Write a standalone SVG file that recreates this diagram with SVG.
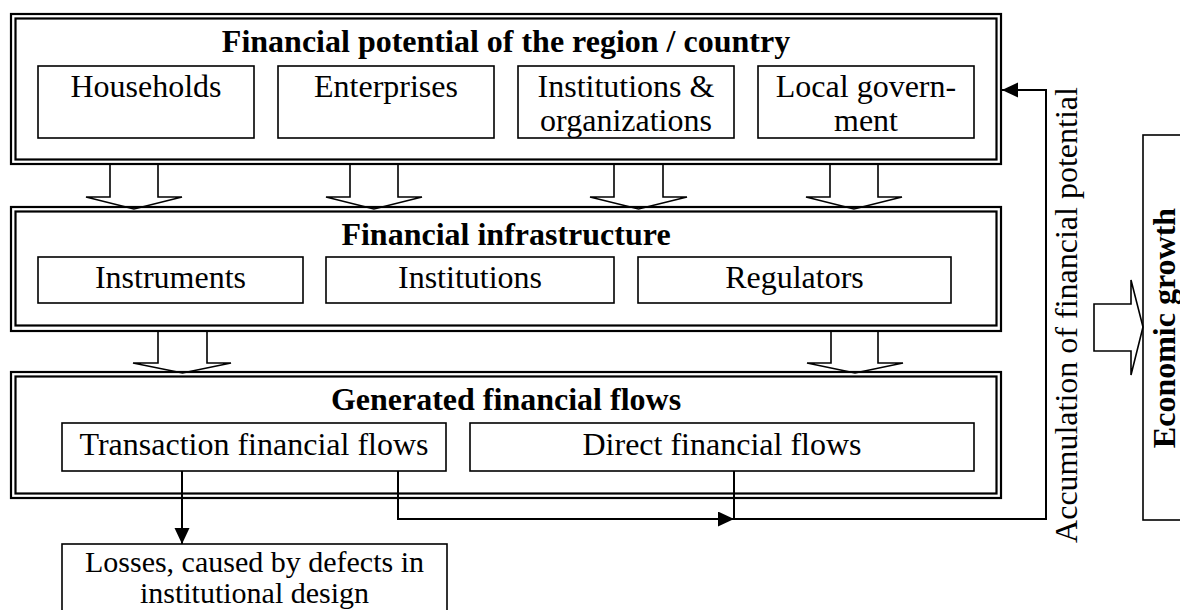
<svg xmlns="http://www.w3.org/2000/svg" width="1180" height="610" viewBox="0 0 1180 610">
<defs>
<style>
.frame{fill:none;stroke:#000;stroke-width:2.2}
.box{fill:#fff;stroke:#000;stroke-width:1.6}
.t{font-family:"Liberation Serif","Times New Roman",serif;font-size:32px;fill:#000;text-anchor:middle}
.s{font-size:30px}
.b{font-weight:bold}
.blk{fill:none;stroke:#000;stroke-width:1.6}
.con{fill:none;stroke:#000;stroke-width:2}
</style>
<marker id="ah" markerUnits="userSpaceOnUse" markerWidth="17" markerHeight="16" refX="16" refY="7.5" orient="auto">
<path d="M0,0 L16,7.5 L0,15 z" fill="#000"/>
</marker>
</defs>

<g id="potential">
<rect class="frame" x="11" y="14" width="990" height="150"/>
<rect class="frame" x="15.5" y="18.5" width="981" height="141"/>
<text class="t b" x="506" y="52">Financial potential of the region / country</text>
</g>
<g id="households"><rect class="box" x="38" y="66" width="216" height="72"/><text class="t" x="146" y="97">Households</text></g>
<g id="enterprises"><rect class="box" x="278" y="66" width="216" height="72"/><text class="t" x="386" y="97">Enterprises</text></g>
<g id="institutions-org"><rect class="box" x="518" y="66" width="216" height="72"/><text class="t" x="626" y="97">Institutions &amp;</text><text class="t" x="626" y="131">organizations</text></g>
<g id="local-gov"><rect class="box" x="758" y="66" width="216" height="72"/><text class="t" x="866" y="97">Local govern-</text><text class="t" x="866" y="131">ment</text></g>

<g id="infrastructure">
<rect class="frame" x="11" y="207" width="990" height="124"/>
<rect class="frame" x="15.5" y="211.5" width="981" height="114"/>
<text class="t b" x="506" y="245">Financial infrastructure</text>
</g>
<g id="instruments"><rect class="box" x="38" y="257" width="265" height="46"/><text class="t" x="170.5" y="288">Instruments</text></g>
<g id="institutions"><rect class="box" x="326" y="257" width="288" height="46"/><text class="t" x="470" y="288">Institutions</text></g>
<g id="regulators"><rect class="box" x="638" y="257" width="313" height="46"/><text class="t" x="794.5" y="288">Regulators</text></g>

<g id="flows">
<rect class="frame" x="11" y="372" width="990" height="126"/>
<rect class="frame" x="15.5" y="376.5" width="981" height="117"/>
<text class="t b" x="506" y="410">Generated financial flows</text>
</g>
<g id="transaction"><rect class="box" x="62" y="423" width="384" height="48"/><text class="t" x="254" y="455">Transaction financial flows</text></g>
<g id="direct"><rect class="box" x="470" y="423" width="504" height="48"/><text class="t" x="722" y="455">Direct financial flows</text></g>

<g id="losses"><rect class="box" x="62" y="544" width="385" height="80"/><text class="t s" x="254.5" y="572">Losses, caused by defects in</text><text class="t s" x="254.5" y="603">institutional design</text></g>

<g id="growth"><rect class="box" x="1143" y="135" width="50" height="385"/><text class="t b" transform="translate(1175,328) rotate(-90)">Economic growth</text></g>

<g id="accum-label"><text class="t" transform="translate(1077,315) rotate(-90)">Accumulation of financial potential</text></g>

<g id="connectors">
<path class="blk" d="M110,165 V197 H86 L134,209 L182,197 H158 V165"/>
<path class="blk" d="M350,165 V197 H326 L374,209 L422,197 H398 V165"/>
<path class="blk" d="M614,165 V197 H590 L638.5,209 L687,197 H663 V165"/>
<path class="blk" d="M830,165 V197 H806 L854,209 L902,197 H878 V165"/>
<path class="blk" d="M158,332 V363 H133 L182.5,373 L231,363 H207 V332"/>
<path class="blk" d="M831,332 V363 H807 L855,373 L903,363 H878 V332"/>
<path class="blk" d="M1094,304 H1131 V280 L1143,327 L1131,375 V351 H1094 Z" fill="#fff"/>
<path class="con" d="M182,471 V544" marker-end="url(#ah)"/>
<path class="con" d="M398,471 V519 H734" marker-end="url(#ah)"/>
<path class="con" d="M734,471 V519 H1046 V90 H1002" marker-end="url(#ah)"/>
</g>
</svg>
